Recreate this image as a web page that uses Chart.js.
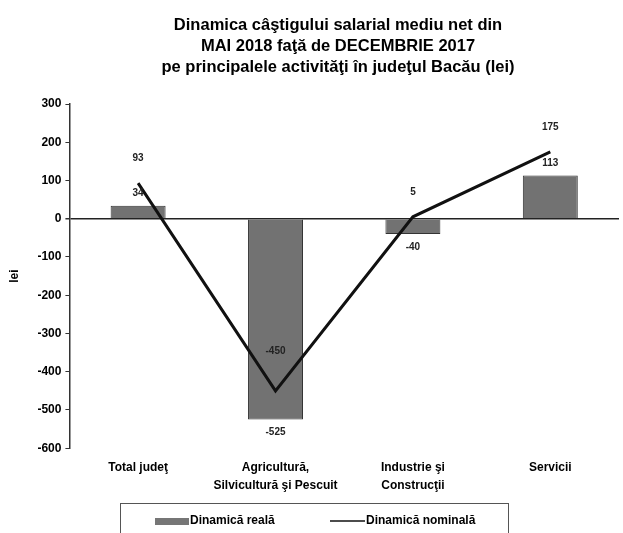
<!DOCTYPE html>
<html>
<head>
<meta charset="utf-8">
<script src="https://cdn.jsdelivr.net/npm/chart.js@4.4.1/dist/chart.umd.min.js"></script>
<style>
html,body{margin:0;padding:0;background:#fff;}
#wrap{width:623px;height:533px;}
</style>
</head>
<body>
<div id="wrap"><canvas id="c" width="623" height="533"></canvas></div>
<script>
const categories = [["Total judeţ"], ["Agricultură,", "Silvicultură şi Pescuit"], ["Industrie şi", "Construcţii"], ["Servicii"]];
const realValues = [34, -525, -40, 113];
const nominalValues = [93, -450, 5, 175];
const yTicks = {min: -600, max: 300, step: 100};
const titleLines = ["Dinamica câştigului salarial mediu net din", "MAI 2018 faţă de DECEMBRIE 2017", "pe principalele activităţi în judeţul Bacău (lei)"];
const seriesNames = ["Dinamică reală", "Dinamică nominală"];

const FONT = "'Liberation Sans', Arial, sans-serif";

const titlePlugin = {
  id: 'customTitle',
  afterDraw(chart) {
    const ctx = chart.ctx;
    ctx.save();
    ctx.font = "bold 16.5px " + FONT;
    ctx.fillStyle = '#000';
    ctx.textAlign = 'center';
    ctx.textBaseline = 'middle';
    const cx = 338;
    const ys = [25, 46, 67];
    titleLines.forEach((t, i) => ctx.fillText(t, cx, ys[i]));
    ctx.restore();
  }
};

const labelPlugin = {
  id: 'valueLabels',
  afterDatasetsDraw(chart) {
    const ctx = chart.ctx;
    ctx.save();
    ctx.font = "bold 10px " + FONT;
    ctx.fillStyle = '#222';
    ctx.textAlign = 'center';
    ctx.textBaseline = 'middle';
    const barMeta = chart.getDatasetMeta(0);
    barMeta.data.forEach((el, i) => {
      const v = realValues[i];
      const y = v >= 0 ? el.y - 12 : el.y + 13;
      ctx.fillText(String(v), el.x, y);
    });
    const lineMeta = chart.getDatasetMeta(1);
    lineMeta.data.forEach((el, i) => {
      const v = nominalValues[i];
      const off = v < -200 ? 40 : 25;
      ctx.fillText(String(v), el.x, el.y - off);
    });
    ctx.restore();
  }
};

const legendPlugin = {
  id: 'boxLegend',
  afterDraw(chart) {
    const ctx = chart.ctx;
    ctx.save();
    const x0 = 120, y0 = 503, x1 = 508, y1 = 540;
    ctx.strokeStyle = '#555';
    ctx.lineWidth = 1;
    ctx.strokeRect(x0 + 0.5, y0 + 0.5, x1 - x0, y1 - y0);
    const cy = 521;
    ctx.fillStyle = '#767676';
    ctx.fillRect(155, cy - 3, 34, 7);
    ctx.font = "bold 12px " + FONT;
    ctx.fillStyle = '#000';
    ctx.textBaseline = 'middle';
    ctx.textAlign = 'left';
    ctx.fillText(seriesNames[0], 190, cy);
    ctx.strokeStyle = '#111';
    ctx.lineWidth = 1.5;
    ctx.beginPath();
    ctx.moveTo(330, cy);
    ctx.lineTo(365, cy);
    ctx.stroke();
    ctx.fillText(seriesNames[1], 366, cy);
    ctx.restore();
  }
};

new Chart(document.getElementById('c'), {
  data: {
    labels: categories,
    datasets: [
      {
        type: 'bar',
        label: seriesNames[0],
        data: realValues,
        backgroundColor: '#727272',
        borderColor: '#333',
        borderWidth: 1,
        barPercentage: 0.4,
        categoryPercentage: 1,
        order: 2
      },
      {
        type: 'line',
        label: seriesNames[1],
        data: nominalValues,
        borderColor: '#111',
        borderWidth: 3,
        pointRadius: 0,
        tension: 0,
        fill: false,
        order: 1
      }
    ]
  },
  options: {
    responsive: false,
    animation: false,
    layout: {padding: {left: 7, right: 4, top: 104, bottom: 36}},
    plugins: {
      legend: {display: false},
      tooltip: {enabled: false},
      title: {display: false}
    },
    scales: {
      x: {
        grid: {display: false},
        border: {display: false},
        ticks: {color: '#000', font: {family: FONT, size: 12, weight: 'bold', lineHeight: 1.45}, padding: 3, maxRotation: 0, autoSkip: false}
      },
      y: {
        min: yTicks.min,
        max: yTicks.max,
        ticks: {stepSize: yTicks.step, color: '#000', font: {family: FONT, size: 12, weight: 'bold'}, padding: 4},
        grid: {
          color: c => (c.tick && c.tick.value === 0) ? '#222' : 'rgba(0,0,0,0)',
          lineWidth: c => (c.tick && c.tick.value === 0) ? 1.5 : 1,
          tickColor: '#333',
          tickLength: 4,
          drawTicks: true
        },
        border: {display: true, color: '#333', width: 1.5},
        title: {display: true, text: 'lei', color: '#000', font: {family: FONT, size: 12, weight: 'bold'}, padding: {top: 0, bottom: 12}}
      }
    }
  },
  plugins: [titlePlugin, labelPlugin, legendPlugin]
});
</script>
</body>
</html>
